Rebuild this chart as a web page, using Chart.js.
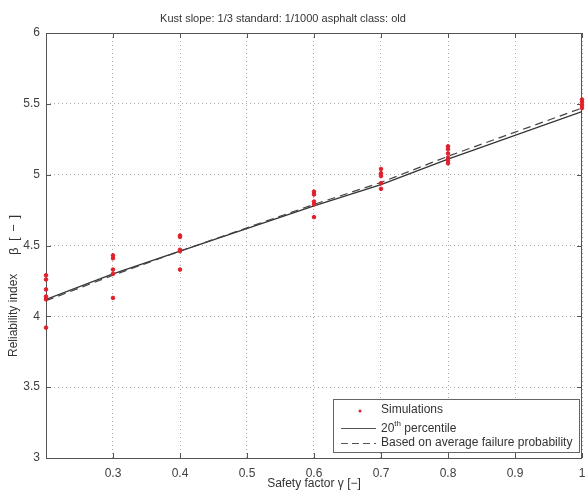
<!DOCTYPE html>
<html>
<head>
<meta charset="utf-8">
<script src="https://cdn.jsdelivr.net/npm/chart.js@4.4.0/dist/chart.umd.min.js"></script>
<style>
  html, body { margin: 0; padding: 0; background: #fff; }
  #wrap { width: 587px; height: 491px; }
</style>
</head>
<body>
<div id="wrap"><canvas id="myChart" width="587" height="491"></canvas></div>
<script>
// safety factor values where simulations were run
const gammaSim = [0.2, 0.3, 0.4, 0.6, 0.7, 0.8, 1.0];
// simulated reliability index per safety factor
const betaSim = [
  [4.29, 4.26, 4.19, 4.14, 4.12, 3.92],
  [4.43, 4.41, 4.33, 4.30, 4.13],
  [4.57, 4.56, 4.47, 4.46, 4.33],
  [4.88, 4.86, 4.81, 4.79, 4.70],
  [5.04, 5.01, 4.99, 4.94, 4.90],
  [5.20, 5.18, 5.15, 5.12, 5.10, 5.08],
  [5.53, 5.51, 5.49, 5.47]
];
const percentile20 = [4.12, 4.30, 4.46, 4.78, 4.93, 5.11, 5.445];
const avgFailure = [4.11, 4.29, 4.46, 4.79, 4.945, 5.13, 5.47];

const xTicks = [0.2, 0.3, 0.4, 0.5, 0.6, 0.7, 0.8, 0.9, 1];
const yTicks = [3, 3.5, 4, 4.5, 5, 5.5, 6];

const titleText = 'Kust slope: 1/3 standard: 1/1000 asphalt class: old';

const simPoints = [];
gammaSim.forEach((g, i) => {
  betaSim[i].forEach(b => simPoints.push({ x: g, y: b }));
});

const textColor = '#404040';
const fontFam = '"Liberation Sans", Arial, sans-serif';

// box + inward ticks, matlab style (drawn under the points)
const boxPlugin = {
  id: 'box',
  beforeDatasetsDraw(chart) {
    const { ctx, chartArea: a, scales } = chart;
    ctx.save();
    ctx.strokeStyle = '#555';
    ctx.lineWidth = 1;
    ctx.strokeRect(a.left + 0.5, a.top + 0.5, a.right - a.left - 1, a.bottom - a.top);
    ctx.beginPath();
    xTicks.forEach(t => {
      const px = Math.round(scales.x.getPixelForValue(t)) + 0.5;
      ctx.moveTo(px, a.bottom); ctx.lineTo(px, a.bottom - 5);
      ctx.moveTo(px, a.top); ctx.lineTo(px, a.top + 5);
    });
    yTicks.forEach(t => {
      const py = Math.round(scales.y.getPixelForValue(t)) + 0.5;
      ctx.moveTo(a.left, py); ctx.lineTo(a.left + 5, py);
      ctx.moveTo(a.right, py); ctx.lineTo(a.right - 5, py);
    });
    ctx.stroke();
    ctx.restore();
  }
};

// title and y label
const textPlugin = {
  id: 'texts',
  afterDraw(chart) {
    const { ctx } = chart;
    ctx.save();
    ctx.fillStyle = '#333';
    ctx.font = '11px ' + fontFam;
    ctx.textAlign = 'center';
    ctx.textBaseline = 'middle';
    ctx.fillText(titleText, 283, 19);
    // rotated y label
    ctx.translate(14, 357);
    ctx.rotate(-Math.PI / 2);
    ctx.font = '12px ' + fontFam;
    ctx.textAlign = 'left';
    ctx.fillText('Reliability index', 0, 0);
    ctx.font = '13px ' + fontFam;
    ctx.fillText('β', 102, 0);
    ctx.letterSpacing = '1px';
    ctx.fillText('[ − ]', 116, 0);
    ctx.restore();
  }
};

// legend box in lower right corner
const legendPlugin = {
  id: 'boxLegend',
  afterDraw(chart) {
    const { ctx, chartArea: a } = chart;
    const w = 246, h = 53;
    const x0 = a.right - 3 - w, y0 = a.bottom - 6 - h;
    ctx.save();
    ctx.fillStyle = '#fff';
    ctx.fillRect(x0, y0, w, h);
    ctx.strokeStyle = '#666';
    ctx.lineWidth = 1;
    ctx.strokeRect(x0 + 0.5, y0 + 0.5, w, h);
    ctx.font = '12px ' + fontFam;
    ctx.fillStyle = '#333';
    ctx.textBaseline = 'middle';
    const tx = x0 + 48;
    const rows = [y0 + 11, y0 + 29, y0 + 44];
    // dot
    ctx.beginPath();
    ctx.arc(x0 + 27, rows[0] + 1, 1.5, 0, Math.PI * 2);
    ctx.fillStyle = '#e0202a';
    ctx.fill();
    ctx.fillStyle = '#333';
    ctx.fillText('Simulations', tx, rows[0]);
    // solid
    ctx.strokeStyle = '#555';
    ctx.beginPath();
    ctx.moveTo(x0 + 8, rows[1] + 0.5); ctx.lineTo(x0 + 43, rows[1] + 0.5);
    ctx.stroke();
    ctx.fillText('20', tx, rows[1] + 1);
    const w20 = ctx.measureText('20').width;
    ctx.font = '8px ' + fontFam;
    ctx.fillText('th', tx + w20, rows[1] - 4);
    const wth = ctx.measureText('th').width;
    ctx.font = '12px ' + fontFam;
    ctx.fillText(' percentile', tx + w20 + wth, rows[1] + 1);
    // dashed
    ctx.setLineDash([7, 4]);
    ctx.beginPath();
    ctx.moveTo(x0 + 8, rows[2] + 0.5); ctx.lineTo(x0 + 43, rows[2] + 0.5);
    ctx.stroke();
    ctx.setLineDash([]);
    ctx.fillText('Based on average failure probability', tx, rows[2]);
    ctx.restore();
  }
};

const data = {
  datasets: [{
    label: 'Simulations',
    type: 'scatter',
    data: simPoints,
    backgroundColor: '#e0202a',
    borderColor: '#e0202a',
    pointRadius: 1.8,
    clip: false,
    order: 0
  }, {
    label: '20th percentile',
    type: 'line',
    data: gammaSim.map((g, i) => ({ x: g, y: percentile20[i] })),
    borderColor: '#333',
    borderWidth: 1.3,
    pointRadius: 0,
    fill: false,
    order: 2
  }, {
    label: 'Based on average failure probability',
    type: 'line',
    data: gammaSim.map((g, i) => ({ x: g, y: avgFailure[i] })),
    borderColor: '#444',
    borderWidth: 1.2,
    borderDash: [8, 5],
    pointRadius: 0,
    fill: false,
    order: 1
  }]
};

const config = {
  type: 'scatter',
  data,
  options: {
    responsive: false,
    animation: false,
    layout: { padding: { left: 0, right: 1, top: 33, bottom: 0 } },
    plugins: {
      legend: { display: false },
      tooltip: { enabled: false },
      title: { display: false }
    },
    scales: {
      x: {
        type: 'linear',
        min: 0.2,
        max: 1,
        afterBuildTicks: s => { s.ticks = xTicks.map(v => ({ value: v })); },
        afterFit: s => { s.height = 33; s.paddingLeft = 0; s.paddingRight = 0; },
        ticks: {
          color: textColor,
          font: { family: fontFam, size: 12 },
          padding: 8,
          maxRotation: 0,
          callback: v => (v === 0.2 ? '' : String(v))
        },
        grid: {
          color: '#aaa',
          lineWidth: 1,
          drawTicks: false
        },
        border: { display: false, dash: [1, 3] },
        title: {
          display: true,
          text: 'Safety factor γ [−]',
          color: '#333',
          font: { family: fontFam, size: 12 },
          padding: { top: 0, bottom: 0 }
        }
      },
      y: {
        type: 'linear',
        min: 3,
        max: 6,
        afterBuildTicks: s => { s.ticks = yTicks.map(v => ({ value: v })); },
        afterFit: s => { s.width = 46; s.paddingTop = 0; s.paddingBottom = 0; },
        ticks: {
          color: textColor,
          font: { family: fontFam, size: 12 },
          padding: 6,
          callback: v => String(v)
        },
        grid: {
          color: '#aaa',
          lineWidth: 1,
          drawTicks: false
        },
        border: { display: false, dash: [1, 3] },
        title: { display: false }
      }
    }
  },
  plugins: [boxPlugin, textPlugin, legendPlugin]
};

const ctx = document.getElementById('myChart').getContext('2d');
const myChart = new Chart(ctx, config);
</script>
</body>
</html>
